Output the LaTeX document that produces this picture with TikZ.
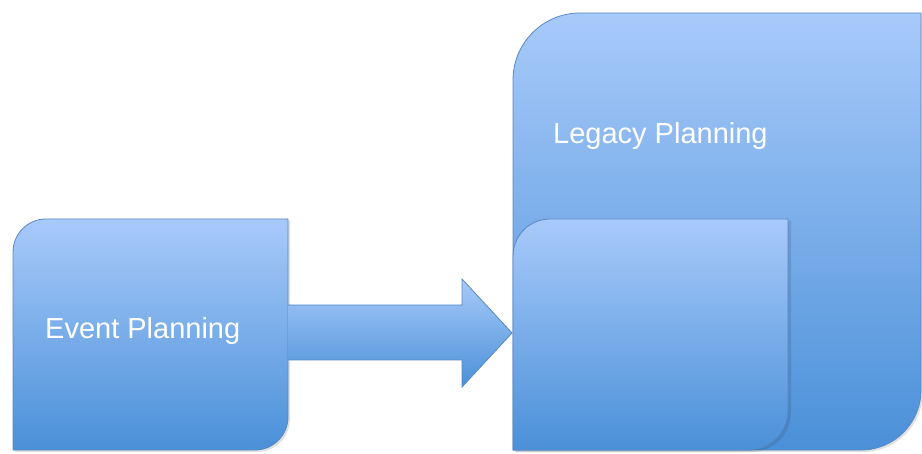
\documentclass[tikz,border=0pt]{standalone}
\usepackage{fontspec}
\setmainfont{Liberation Sans}
\definecolor{boxtop}{RGB}{168,202,250}
\definecolor{boxbot}{RGB}{74,144,216}
\definecolor{boxline}{RGB}{88,136,196}
\tikzset{
  boxshade/.style={top color=boxtop, bottom color=boxbot, draw=boxline, line width=0.8pt},
  shadowfill/.style={fill=black, opacity=0.12},
  lbl/.style={text=white, font=\fontsize{29}{34}\selectfont, anchor=base west, inner sep=0pt}
}
\begin{document}
\begin{tikzpicture}[x=1pt,y=1pt]
\useasboundingbox (0,0) rectangle (922,453);
% named extents
\coordinate (ev-sw) at (13,3);   \coordinate (ev-ne) at (288,234);
\coordinate (lg-sw) at (513,3);  \coordinate (lg-ne) at (921,440);
\coordinate (in-sw) at (513,3);  \coordinate (in-ne) at (788,234);
% shadows
\fill[shadowfill] (15,1) -- (15,201) arc[start angle=180,end angle=90,radius=33] -- (290,232) -- (290,34) arc[start angle=0,end angle=-90,radius=33] -- cycle;
\fill[shadowfill] (515,1) -- (515,371) arc[start angle=180,end angle=90,radius=67] -- (923,438) -- (923,61) arc[start angle=0,end angle=-90,radius=60] -- cycle;
% Event Planning box
\shade[boxshade] (ev-sw) -- (13,201) arc[start angle=180,end angle=90,radius=33] -- (ev-ne) -- (288,36) arc[start angle=0,end angle=-90,radius=33] -- cycle;
% arrow
\coordinate (ar-tip) at (512,120);
\shade[boxshade] (288,148) -- (462,148) -- (462,174) -- (ar-tip) -- (462,66) -- (462,93) -- (288,93);
% Legacy Planning box
\shade[boxshade] (lg-sw) -- (513,373) arc[start angle=180,end angle=90,radius=67] -- (lg-ne) -- (921,63) arc[start angle=0,end angle=-90,radius=60] -- cycle;
% inner box
\fill[black,opacity=0.10] (516,1) -- (516,197) arc[start angle=180,end angle=90,radius=37] -- (791,232) -- (791,41) arc[start angle=0,end angle=-90,radius=40] -- cycle;
\shade[boxshade] (in-sw) -- (513,197) arc[start angle=180,end angle=90,radius=37] -- (in-ne) -- (788,43) arc[start angle=0,end angle=-90,radius=40] -- cycle;
% labels
\node[lbl] (evtext) at (45,114) {Event Planning};
\node[lbl] (lgtext) at (553,309) {Legacy Planning};
\end{tikzpicture}
\end{document}
